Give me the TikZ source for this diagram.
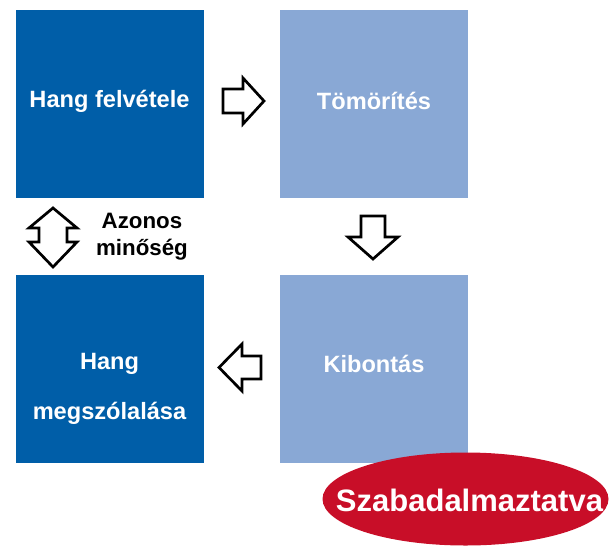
\documentclass[tikz,border=0pt]{standalone}
\usepackage{fontspec}
\setmainfont{Liberation Sans}
\usetikzlibrary{shapes.geometric}

\begin{document}
\begin{tikzpicture}[x=1pt, y=-1pt, line join=miter]

\definecolor{darkblue}{RGB}{0,94,168}
\definecolor{lightblue}{RGB}{137,168,213}
\definecolor{patentred}{RGB}{200,14,40}

\tikzset{box/.style={minimum size=188pt, inner sep=0pt, outer sep=0pt},
         label/.style={text=white, font=\fontsize{23.6}{27}\selectfont\bfseries},
         blockarrow/.style={draw=black, fill=white, line width=2.7pt}}

\useasboundingbox (0,0) rectangle (611,547);

% the four boxes
\node[box, fill=darkblue] (felvetel) at (109.5,104) {};
\node[box, fill=lightblue] (tomorites) at (374,104) {};
\node[box, fill=darkblue] (megszolal) at (109.5,369) {};
\node[box, fill=lightblue] (kibontas) at (374,369) {};

\node[label] (felvetelT) at (109.5,101) {Hang felvétele};
\node[label] (tomoritesT) at (374,101) {Tömörítés};
\node[label] (hangT) at (109.5,364) {Hang};
\node[label] (megszolalT) at (109.5,413) {megszólalása};
\node[label] (kibontasT) at (374,364) {Kibontás};

% block arrows
\draw[blockarrow] (223,89)--(243,89)--(243,78)--(264,101)--(243,124)--(243,113)--(223,113)--cycle;
\draw[blockarrow] (361,216)--(385,216)--(385,237)--(398,237)--(373,259)--(348,237)--(361,237)--cycle;
\draw[blockarrow] (261,356)--(242,356)--(242,344)--(219,367.5)--(242,391)--(242,379)--(261,379)--cycle;
\draw[blockarrow] (53,208)--(77,228)--(67,228)--(67,242)--(77,242)--(53,267)--(29,242)--(39,242)--(39,228)--(29,228)--cycle;

\node[font=\fontsize{22.3}{27}\selectfont\bfseries, align=center] (azonos) at (142,237) {Azonos\\minőség};

% red seal
\node[ellipse, fill=patentred, minimum width=286pt, minimum height=93pt, inner sep=0pt] (seal) at (465.5,499) {};
\node[text=white, font=\fontsize{31}{35}\selectfont\bfseries] (sealT) at (469.5,500) {Szabadalmaztatva};

\end{tikzpicture}
\end{document}
